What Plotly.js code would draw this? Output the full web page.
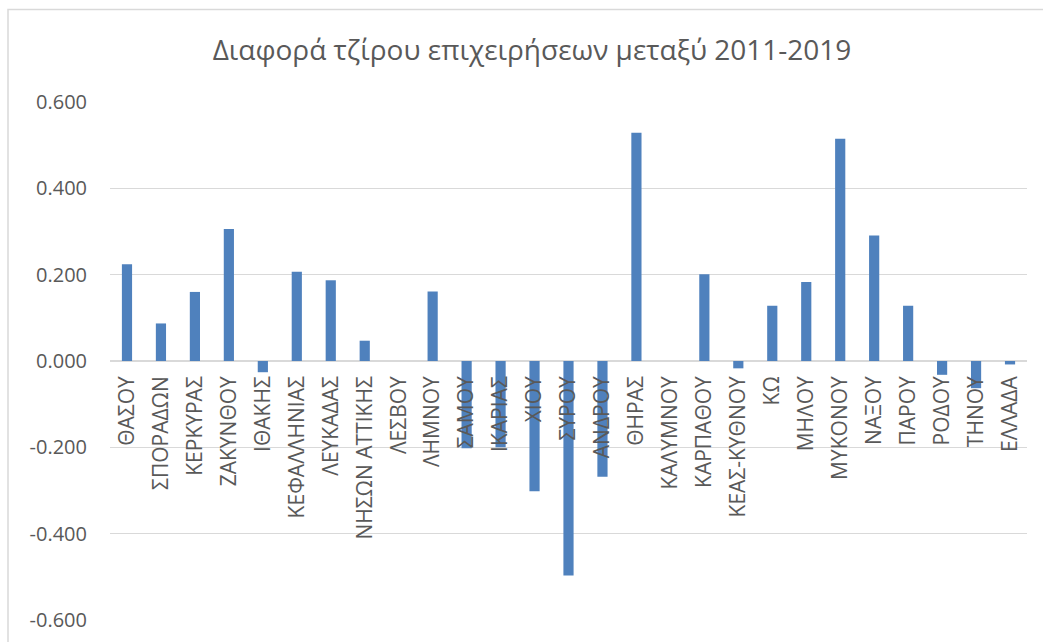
<!DOCTYPE html>
<html>
<head>
<meta charset="utf-8">
<script src="https://cdn.plot.ly/plotly-3.0.1.min.js"></script>
<style>html,body{margin:0;padding:0;background:#fff;}#chart{width:1043px;height:642px;}</style>
</head>
<body>
<div id="chart"></div>
<script>
const categories = ["ΘΑΣΟΥ","ΣΠΟΡΑΔΩΝ","ΚΕΡΚΥΡΑΣ","ΖΑΚΥΝΘΟΥ","ΙΘΑΚΗΣ","ΚΕΦΑΛΛΗΝΙΑΣ","ΛΕΥΚΑΔΑΣ","ΝΗΣΩΝ ΑΤΤΙΚΗΣ","ΛΕΣΒΟΥ","ΛΗΜΝΟΥ","ΣΑΜΟΥ","ΙΚΑΡΙΑΣ","ΧΙΟΥ","ΣΥΡΟΥ","ΑΝΔΡΟΥ","ΘΗΡΑΣ","ΚΑΛΥΜΝΟΥ","ΚΑΡΠΑΘΟΥ","ΚΕΑΣ-ΚΥΘΝΟΥ","ΚΩ","ΜΗΛΟΥ","ΜΥΚΟΝΟΥ","ΝΑΞΟΥ","ΠΑΡΟΥ","ΡΟΔΟΥ","ΤΗΝΟΥ","ΕΛΛΑΔΑ"];
const values = [0.224,0.087,0.160,0.306,-0.026,0.207,0.187,0.047,0.000,0.161,-0.202,-0.200,-0.302,-0.497,-0.268,0.529,0.000,0.201,-0.017,0.128,0.183,0.515,0.291,0.128,-0.032,-0.063,-0.008];
const yTicks = [-0.6,-0.4,-0.2,0,0.2,0.4,0.6];
const yTickLabels = ["-0.600","-0.400","-0.200","0.000","0.200","0.400","0.600"];
const titleText = "Διαφορά τζίρου επιχειρήσεων μεταξύ 2011-2019";

const W = 1043, H = 642;
const mL = 110, mR = 16, mT = 102, mB = 22;
const pw = W - mL - mR, ph = H - mT - mB;
const gridColor = "#d9d9d9";
const textColor = "#595959";
const fontFam = "'Open Sans', 'Noto Sans', sans-serif";

const trace = {
  type: "bar",
  x: categories,
  y: values,
  marker: {color: "#4f81bd"},
  hoverinfo: "x+y"
};

const layout = {
  width: W, height: H,
  margin: {l: mL, r: mR, t: mT, b: mB},
  paper_bgcolor: "#ffffff",
  plot_bgcolor: "#ffffff",
  showlegend: false,
  bargap: 0.7,
  font: {family: fontFam, color: textColor},
  title: {
    text: titleText,
    font: {family: fontFam, size: 28, color: textColor},
    xref: "container", yref: "container",
    x: 532 / W, xanchor: "center",
    y: 1 - 50 / H, yanchor: "middle"
  },
  xaxis: {
    type: "category",
    anchor: "free",
    position: 0.5,
    showline: false,
    showgrid: false,
    ticks: "",
    tickangle: -90,
    ticklabelstandoff: 10,
    tickfont: {family: fontFam, size: 21, color: textColor},
    automargin: false,
    fixedrange: true
  },
  yaxis: {
    range: [-0.6, 0.6],
    tickvals: yTicks,
    ticktext: yTickLabels,
    showgrid: true,
    gridcolor: gridColor,
    gridwidth: 1.3,
    zeroline: true,
    zerolinecolor: gridColor,
    zerolinewidth: 1.3,
    showline: false,
    ticks: "",
    ticklabelstandoff: 22,
    tickfont: {family: fontFam, size: 20, color: textColor},
    automargin: false,
    fixedrange: true
  },
  shapes: [{
    type: "rect",
    xref: "paper", yref: "paper",
    x0: (8 - mL) / pw, x1: (W + 20 - mL) / pw,
    y0: (mT + ph - (H + 20)) / ph, y1: (mT + ph - 9.5) / ph,
    line: {color: gridColor, width: 1.5},
    fillcolor: "rgba(0,0,0,0)",
    layer: "below"
  }]
};

Plotly.newPlot("chart", [trace], layout, {displayModeBar: false, staticPlot: true});
</script>
</body>
</html>
